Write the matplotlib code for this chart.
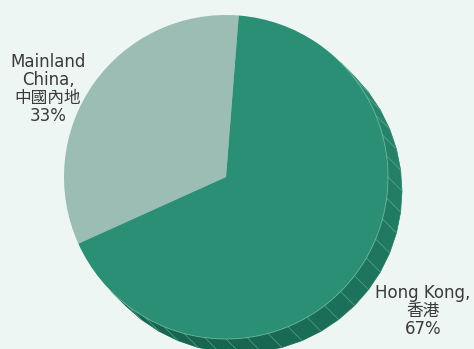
import numpy as np
import matplotlib.pyplot as plt
from matplotlib.patches import Polygon
from matplotlib.colors import to_rgb

labels = ["Mainland\nChina,\n中國內地", "Hong Kong,\n香港"]
shares = [33, 67]
colors = ["#9bbdb4", "#2a8f74"]

W, H = 474, 349
cx, cy, r = 226, 172, 162
off = np.array([14, -14])

fig = plt.figure(figsize=(W / 100, H / 100), dpi=100)
fig.patch.set_facecolor("#eef6f3")
ax = fig.add_axes([0, 0, 1, 1])
ax.set_facecolor("#eef6f3")

# extruded side, faceted from the upper right round to the lower left
edges = np.radians(np.arange(45, -136, -7.5))
light, dark = np.array(to_rgb("#2a8a70")), np.array(to_rgb("#15654f"))
for a1, a2 in zip(edges[:-1], edges[1:]):
    p1 = np.array([cx + r * np.cos(a1), cy + r * np.sin(a1)])
    p2 = np.array([cx + r * np.cos(a2), cy + r * np.sin(a2)])
    t = np.clip((45 - np.degrees((a1 + a2) / 2)) / 135, 0, 1)
    c = light * (1 - t) + dark * t
    ax.add_patch(Polygon([p1, p2, p2 + off, p1 + off], closed=True,
                         facecolor=c, edgecolor=c, lw=0.5, zorder=1))
for a in edges[1:-1]:
    p = np.array([cx + r * np.cos(a), cy + r * np.sin(a)])
    ax.plot([p[0], p[0] + off[0]], [p[1], p[1] + off[1]],
            color="#6fb9a2", lw=0.5, alpha=0.7, zorder=2)

ax.pie(shares, colors=colors, startangle=85.5, counterclock=True,
       center=(cx, cy), radius=r, frame=True,
       wedgeprops=dict(linewidth=0, zorder=3))

rim = np.radians(np.linspace(45, -135, 100))
ax.plot(cx + r * np.cos(rim), cy + r * np.sin(rim), color="#7cc3ac",
        lw=0.6, alpha=0.8, zorder=4)

fam = ["DejaVu Sans", "Noto Sans CJK TC"]
ax.text(48, H - 89, f"{labels[0]}\n{shares[0]}%", ha="center", va="center",
        fontsize=12, color="#3a3a3a", family=fam, linespacing=1.0)
ax.text(423, H - 311, f"{labels[1]}\n{shares[1]}%", ha="center", va="center",
        fontsize=12, color="#3a3a3a", family=fam, linespacing=1.0)

ax.set_xlim(0, W)
ax.set_ylim(0, H)
ax.set_aspect("equal")
ax.axis("off")

fig.savefig("out.png", dpi=100, facecolor=fig.get_facecolor())
